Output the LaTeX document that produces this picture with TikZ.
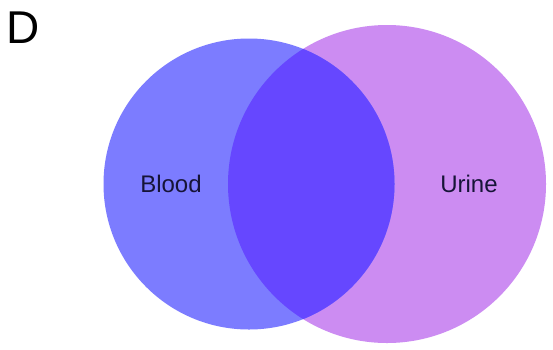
\documentclass[tikz,border=0pt]{standalone}
\usepackage{fontspec}
\setmainfont{Liberation Sans}
\definecolor{bloodc}{RGB}{124,124,255}
\definecolor{urinec}{RGB}{204,140,242}
\definecolor{bothc}{RGB}{102,71,255}
\definecolor{labc}{RGB}{22,20,55}
\begin{document}
\begin{tikzpicture}[x=1pt,y=-1pt,
  lab/.style={inner sep=0pt,text=labc,font=\fontsize{24}{28}\selectfont}]
\useasboundingbox (0,0) rectangle (553,349);
\fill[white] (0,0) rectangle (553,349);
\fill[urinec] (387,184) circle[radius=159];
\fill[bloodc] (249,184) circle[radius=145.5];
\begin{scope}
  \clip (387,184) circle[radius=159];
  \fill[bothc] (249,184) circle[radius=145.5];
\end{scope}
\node[lab] (blood) at (171,184) {Blood};
\node[lab] (urine) at (469,184) {Urine};
\node[inner sep=0pt,anchor=base west,font=\fontsize{46}{50}\selectfont] (d) at (6,43) {D};
\end{tikzpicture}
\end{document}
